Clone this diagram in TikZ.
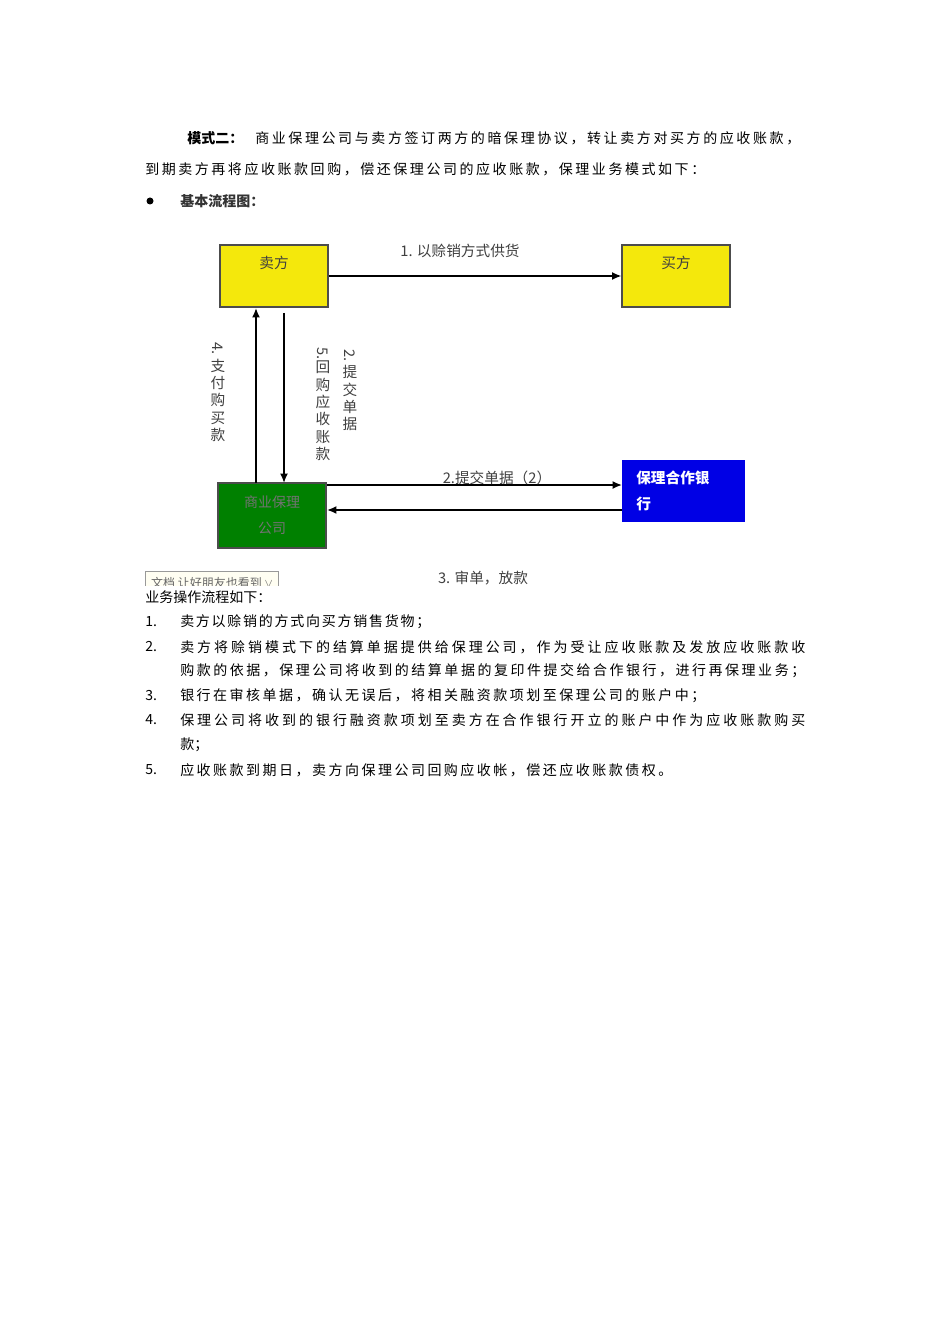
\documentclass[tikz,border=0pt]{standalone}
\usepackage{fontspec}
\usetikzlibrary{arrows.meta}
\setmainfont{Noto Sans CJK SC}
\makeatletter
\def\sp@#1{\ifx#1\relax\unskip\else#1\hskip 0pt plus 1fil\expandafter\sp@\fi}
\newcommand{\jl}[2]{\hbox to #1{\sp@#2\relax}}
\makeatother
\begin{document}
\begin{tikzpicture}[x=0.75pt,y=-0.75pt,
  body/.style={anchor=west,inner sep=0pt,font=\fontsize{10.5}{12}\selectfont},
  boxy/.style={draw=black!70,fill=yellow!95!black,line width=0.8pt,inner sep=0pt},
  arr/.style={line width=1.3pt,-{Latex[length=7pt,width=6pt]}},
  lab/.style={inner sep=0pt,font=\fontsize{11}{12}\selectfont,text=black!75},
  vlab/.style={inner sep=0pt,align=center,font=\fontsize{11}{13}\selectfont,text=black!75}]
\useasboundingbox[fill=white] (0,0) rectangle (950,1344);
% header
\node[body,font=\fontsize{10.5}{12}\selectfont\bfseries] (h0) at (187,138) {模式二：};
\node[body] (h1) at (255,138) {\jl{408.75pt}{商业保理公司与卖方签订两方的暗保理协议，转让卖方对买方的应收账款，}};
\node[body] (h2) at (145,169) {\jl{420pt}{到期卖方再将应收账款回购，偿还保理公司的应收账款，保理业务模式如下：}};
\fill (150,201) circle (3.5);
\node[body,font=\fontsize{10.5}{12}\selectfont\bfseries,text=black!80] (bt) at (180,201) {基本流程图：};
% boxes
\node[boxy,minimum width=81pt,minimum height=46.5pt] (seller) at (274,276) {};
\node[lab] at (274,263) {卖方};
\node[boxy,minimum width=81pt,minimum height=46.5pt] (buyer) at (676,276) {};
\node[lab] at (676,263) {买方};
\node[draw=black!70,fill=green!50!black,line width=0.8pt,minimum width=81pt,minimum height=48.75pt,inner sep=0pt] (fac) at (272,515.5) {};
\node[inner sep=0pt,align=center,font=\fontsize{10.5}{19}\selectfont,text=black!55] at (272,515) {商业保理\\公司};
\node[fill=blue!90!black,minimum width=92.25pt,minimum height=46.5pt,inner sep=0pt] (bank) at (683.5,491) {};
\node[inner sep=0pt,anchor=west,align=left,text=white,font=\fontsize{11}{19}\selectfont\bfseries] at (636,491) {保理合作银\\行};
% arrows
\draw[arr] (seller.east) -- (buyer.west);
\node[lab] at (460,251) {1. 以赊销方式供货};
\coordinate (fu) at (256,483); \coordinate (su) at (256,308);
\draw[arr] (fu) -- (su);
\coordinate (sd) at (284,313); \coordinate (fd) at (284,483);
\draw[arr] (sd) -- (fd);
\node[vlab] at (218,392) {\rotatebox{-90}{4.}\\[2pt]支\\付\\购\\买\\款};
\node[vlab] at (323,404) {\rotatebox{-90}{5.}\\回\\购\\应\\收\\账\\款};
\node[vlab] at (350,390) {\rotatebox{-90}{2.}\\[2pt]提\\交\\单\\据};
\coordinate (fr) at (327,485); \coordinate (br) at (622,485);
\draw[arr] (fr) -- (br);
\node[lab] at (497,478) {2.提交单据（2）};
\coordinate (bl) at (622,510); \coordinate (fl) at (327,510);
\draw[arr] (bl) -- (fl);
\begin{scope}
\clip (140,560) rectangle (750,585);
\node[lab] at (483,578) {3. 审单，放款};
\node[draw=black!40,fill=yellow!5,anchor=north west,minimum width=100pt,minimum height=18pt,inner sep=2pt,font=\fontsize{9}{10}\selectfont,text=black!60] (ad) at (145,571) {文档 让好朋友也看到 $\vee$};
\end{scope}
% list
\node[body] (p0) at (145,597) {业务操作流程如下：};
\node[body] (n1) at (145,622) {1.}; \node[body] (t1) at (180,622) {\jl{187.5pt}{卖方以赊销的方式向买方销售货物；}};
\node[body] (n2) at (145,647) {2.}; \node[body] (t2a) at (180,647) {\jl{468.75pt}{卖方将赊销模式下的结算单据提供给保理公司，作为受让应收账款及发放应收账款收}};
\node[body] (t2b) at (180,671) {\jl{468.75pt}{购款的依据，保理公司将收到的结算单据的复印件提交给合作银行，进行再保理业务；}};
\node[body] (n3) at (145,696) {3.}; \node[body] (t3) at (180,696) {\jl{393.75pt}{银行在审核单据，确认无误后，将相关融资款项划至保理公司的账户中；}};
\node[body] (n4) at (145,720) {4.}; \node[body] (t4a) at (180,720) {\jl{468.75pt}{保理公司将收到的银行融资款项划至卖方在合作银行开立的账户中作为应收账款购买}};
\node[body] (t4b) at (180,745) {款；};
\node[body] (n5) at (145,770) {5.}; \node[body] (t5) at (180,770) {\jl{369pt}{应收账款到期日，卖方向保理公司回购应收帐，偿还应收账款债权。}};
\end{tikzpicture}
\end{document}
